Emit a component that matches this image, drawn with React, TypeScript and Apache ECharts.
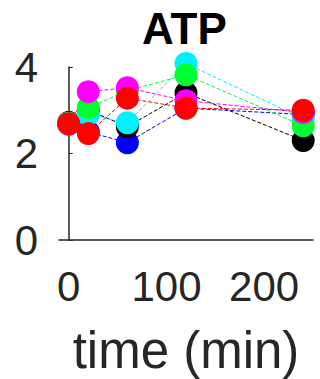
import { useEffect, useRef } from 'react';
import * as echarts from 'echarts';

const times = [0, 20, 60, 120, 240];
const blueValues = [2.68, 2.5, 2.25, 3.05, 2.9];
const blackValues = [2.72, 3.0, 2.62, 3.4, 2.3];
const cyanValues = [2.7, 2.9, 2.71, 4.08, 2.8];
const greenValues = [2.7, 3.06, 3.45, 3.82, 2.64];
const magentaValues = [2.68, 3.43, 3.52, 3.22, 2.95];
const redValues = [2.69, 2.46, 3.28, 3.05, 3.0];

const seriesList = [
  { name: 'blue', color: '#0000ff', values: blueValues },
  { name: 'black', color: '#000000', values: blackValues },
  { name: 'cyan', color: '#00f0ff', values: cyanValues },
  { name: 'green', color: '#00ff30', values: greenValues },
  { name: 'magenta', color: '#ff00ff', values: magentaValues },
  { name: 'red', color: '#ff0000', values: redValues },
];

const xTickLabels = [0, 100, 200];

export default function App() {
  const ref = useRef<HTMLDivElement>(null);
  useEffect(() => {
    document.body.style.margin = '0';
    const chart = echarts.init(ref.current!, null, { renderer: 'svg' });
    const font = '"Liberation Sans", Arial, Helvetica, sans-serif';
    chart.setOption({
      animation: false,
      backgroundColor: '#ffffff',
      title: {
        text: 'ATP',
        left: 137,
        top: 1,
        textStyle: { fontSize: 44, fontWeight: 'bold', color: '#000', fontFamily: font },
      },
      grid: { left: 59, right: 7, top: 67, bottom: 139 },
      xAxis: {
        type: 'value',
        min: -10,
        max: 250,
        name: 'time (min)',
        nameLocation: 'middle',
        nameGap: 85,
        nameTextStyle: { fontSize: 51, color: '#262626', fontFamily: font },
        axisLine: { lineStyle: { color: '#262626', width: 1.5 } },
        axisTick: { show: false },
        splitLine: { show: false },
        axisLabel: {
          customValues: xTickLabels,
          fontSize: 42,
          margin: 25,
          color: '#262626',
          fontFamily: font,
        },
      },
      yAxis: {
        type: 'value',
        min: 0,
        max: 4,
        interval: 2,
        axisLine: { show: true, lineStyle: { color: '#262626', width: 1.5 } },
        axisTick: { show: true, inside: true, length: 4, lineStyle: { color: '#262626' } },
        splitLine: { show: false },
        axisLabel: { fontSize: 42, margin: 21, color: '#262626', fontFamily: font },
      },
      series: seriesList.map((s) => ({
        name: s.name,
        type: 'line',
        clip: false,
        data: times.map((t, i) => [t, s.values[i]]),
        symbol: 'circle',
        symbolSize: 23,
        itemStyle: { color: s.color },
        lineStyle: { color: s.color, width: 1, type: [4, 2] },
      })),
    });
    return () => chart.dispose();
  }, []);
  return <div ref={ref} style={{ width: 320, height: 379, position: 'fixed', left: 0, top: 0 }} />;
}
